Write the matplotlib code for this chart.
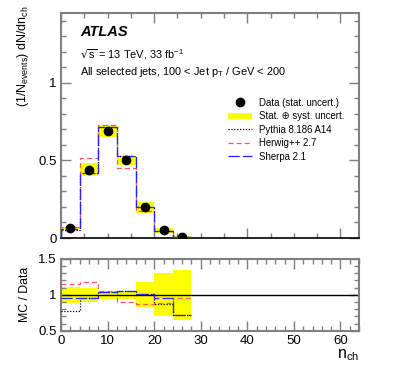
import numpy as np
import matplotlib
matplotlib.use("Agg")
import matplotlib.pyplot as plt
from matplotlib.patches import Patch
from matplotlib.lines import Line2D

plt.rcParams["font.family"] = ["Liberation Sans", "DejaVu Sans"]
plt.rcParams["mathtext.default"] = "regular"

# bin edges in n_ch
edges = np.array([0, 4, 8, 12, 16, 20, 24, 28])
# unfolded data, (1/N) dN/dn_ch
data = np.array([0.063, 0.439, 0.690, 0.501, 0.198, 0.050, 0.009])
# relative stat+syst uncertainty
rel_unc = np.array([0.115, 0.095, 0.055, 0.06, 0.175, 0.30, 0.35])
# MC predictions
pythia = np.array([0.0485, 0.421, 0.718, 0.526, 0.200, 0.044, 0.0065])
herwig = np.array([0.0725, 0.518, 0.728, 0.451, 0.172, 0.0445, 0.0086])
sherpa = np.array([0.060, 0.421, 0.718, 0.526, 0.200, 0.048, 0.0065])

centers = 0.5 * (edges[1:] + edges[:-1])
widths = np.diff(edges)
grey = "#7f7f7f"
herwig_col = "#ff5a5a"
sherpa_col = "#2222ff"
dot = (0, (1, 1.3))
dash = (0, (4, 2.5))
longdash = (0, (9, 2.5))

fig = plt.figure(figsize=(3.99, 3.79), dpi=100)
ax = fig.add_axes([0.153, 0.372, 0.747, 0.594])
rax = fig.add_axes([0.153, 0.127, 0.747, 0.19])

# top panel
ax.bar(edges[:-1], 2 * data * rel_unc, bottom=data * (1 - rel_unc), width=widths,
       align="edge", color="yellow", lw=0, zorder=1)
ax.stairs(pythia, edges, color="black", ls=dot, lw=0.9, zorder=3)
ax.stairs(herwig, edges, color=herwig_col, ls=dash, lw=0.9, zorder=3)
ax.stairs(sherpa, edges, color=sherpa_col, ls=longdash, lw=0.9, zorder=3)
ax.plot(centers, data, "o", color="black", ms=6, zorder=4)

ax.set_xlim(0, 64)
ax.set_ylim(0, 1.45)
ax.set_yticks([0, 0.5, 1])
ax.set_yticklabels(["0", "0.5", "1"])
ax.set_yticks(np.arange(0, 1.45, 0.1), minor=True)
ax.set_xticks([0, 20, 40, 60])
ax.set_xticks(np.arange(0, 65, 5), minor=True)
ax.set_xticklabels([])

# ratio panel
rax.bar(edges[:-1], 2 * rel_unc, bottom=1 - rel_unc, width=widths,
        align="edge", color="yellow", lw=0, zorder=1)
rax.axhline(1, color="black", lw=1, zorder=2)
rax.stairs(pythia / data, edges, baseline=None, color="black", ls=dot, lw=0.9, zorder=3)
rax.stairs(herwig / data, edges, baseline=None, color=herwig_col, ls=dash, lw=0.9, zorder=3)
rax.stairs(sherpa / data, edges, baseline=None, color=sherpa_col, ls=longdash, lw=0.9, zorder=3)
rax.set_xlim(0, 64)
rax.set_ylim(0.5, 1.5)
rax.set_yticks([0.5, 1, 1.5])
rax.set_yticklabels(["0.5", "1", "1.5"])
rax.set_yticks(np.arange(0.5, 1.51, 0.1), minor=True)
rax.set_xticks(np.arange(0, 61, 10))
rax.set_xticks(np.arange(0, 65, 2), minor=True)

for a in (ax, rax):
    for s in a.spines.values():
        s.set_color(grey)
        s.set_linewidth(1.5)
    a.tick_params(which="both", direction="in", top=True, right=True,
                  color=grey, labelsize=9.5, pad=3)
    a.tick_params(which="major", length=7, width=1)
    a.tick_params(which="minor", length=3.5, width=1)
ax.spines["bottom"].set_color("black")
ax.spines["bottom"].set_linewidth(1.2)

fig.text(0.2, 0.905, "ATLAS", fontsize=10.5, fontweight="bold", fontstyle="italic")
fig.text(0.2, 0.845, r"$\sqrt{s}$ = 13 TeV, 33 fb$^{-1}$", fontsize=7.9)
fig.text(0.2, 0.803, r"All selected jets, 100 < Jet p$_{T}$ / GeV < 200", fontsize=7.9)

fig.text(0.057, 0.987, r"(1/N$_{events}$) dN/dn$_{ch}$", rotation=90,
         ha="center", va="top", fontsize=9)
fig.text(0.062, 0.222, "MC / Data", rotation=90, ha="center", va="center", fontsize=8.8)
fig.text(0.9, 0.062, r"n$_{ch}$", ha="right", va="center", fontsize=11.5)

handles = [
    Line2D([], [], marker="o", color="black", ls="none", ms=6),
    Patch(facecolor="yellow", edgecolor="none"),
    Line2D([], [], color="black", ls=dot, lw=0.9),
    Line2D([], [], color=herwig_col, ls=dash, lw=0.9),
    Line2D([], [], color=sherpa_col, ls=longdash, lw=0.9),
]
labels = ["Data (stat. uncert.)", "Stat. \u2295 syst. uncert.", "Pythia 8.186 A14",
          "Herwig++ 2.7", "Sherpa 2.1"]
fig.legend(handles, labels, loc="upper left", bbox_to_anchor=(0.562, 0.752),
           frameon=False, fontsize=6.9, handlelength=2.5, labelspacing=0.36,
           handletextpad=0.75, borderaxespad=0)

fig.savefig("out.png", dpi=100)
